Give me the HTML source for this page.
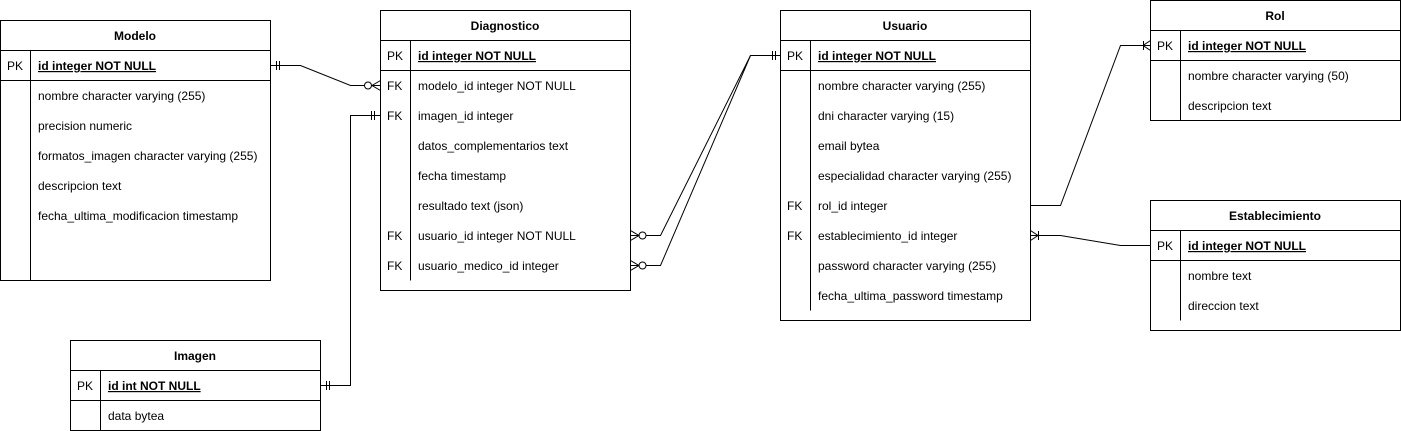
<!DOCTYPE html>
<html><head><meta charset="utf-8"><style>
html,body{margin:0;padding:0;background:#fff;}
svg{display:block;font-family:"Liberation Sans",Arial,sans-serif;font-size:12px;}
.h{font-weight:bold;text-anchor:middle;}
.pk{font-weight:bold;text-decoration:underline;}
</style></head><body>
<svg width="1401" height="431" viewBox="0 0 1401 431" xmlns="http://www.w3.org/2000/svg">
<g fill="none" stroke="#000" stroke-width="1">
<rect x="0.5" y="20.5" width="270" height="260"/>
<line x1="0.5" y1="50.5" x2="270.5" y2="50.5"/>
<line x1="0.5" y1="80.5" x2="270.5" y2="80.5"/>
<line x1="30.5" y1="50.5" x2="30.5" y2="280.5"/>
<rect x="380.5" y="10.5" width="250" height="280"/>
<line x1="380.5" y1="40.5" x2="630.5" y2="40.5"/>
<line x1="380.5" y1="70.5" x2="630.5" y2="70.5"/>
<line x1="410.5" y1="40.5" x2="410.5" y2="280.5"/>
<rect x="780.5" y="10.5" width="250" height="310"/>
<line x1="780.5" y1="40.5" x2="1030.5" y2="40.5"/>
<line x1="780.5" y1="70.5" x2="1030.5" y2="70.5"/>
<line x1="810.5" y1="40.5" x2="810.5" y2="310.5"/>
<rect x="1150.5" y="0.5" width="250" height="120"/>
<line x1="1150.5" y1="30.5" x2="1400.5" y2="30.5"/>
<line x1="1150.5" y1="60.5" x2="1400.5" y2="60.5"/>
<line x1="1180.5" y1="30.5" x2="1180.5" y2="120.5"/>
<rect x="1150.5" y="200.5" width="250" height="130"/>
<line x1="1150.5" y1="230.5" x2="1400.5" y2="230.5"/>
<line x1="1150.5" y1="260.5" x2="1400.5" y2="260.5"/>
<line x1="1180.5" y1="230.5" x2="1180.5" y2="320.5"/>
<rect x="70.5" y="340.5" width="250" height="90"/>
<line x1="70.5" y1="370.5" x2="320.5" y2="370.5"/>
<line x1="70.5" y1="400.5" x2="320.5" y2="400.5"/>
<line x1="100.5" y1="370.5" x2="100.5" y2="430.5"/>

<polyline points="270.5,65.5 300.5,65.5 350.5,85.5 380.5,85.5"/>
<line x1="276.5" y1="61" x2="276.5" y2="70"/><line x1="279.5" y1="61" x2="279.5" y2="70"/>
<circle cx="368" cy="85.5" r="3.5" fill="#fff"/>
<polyline points="380.5,80.5 372,85.5 380.5,90.5"/>

<polyline points="320.5,385.5 350.5,385.5 350.5,115.5 380.5,115.5"/>
<line x1="326.5" y1="381" x2="326.5" y2="390"/><line x1="329.5" y1="381" x2="329.5" y2="390"/>
<line x1="371.5" y1="111" x2="371.5" y2="120"/><line x1="374.5" y1="111" x2="374.5" y2="120"/>

<polyline points="780.5,55.5 750.5,55.5 660.5,235.5 630.5,235.5"/>
<polyline points="750.5,55.5 660.5,265.5 630.5,265.5"/>
<line x1="772.5" y1="51" x2="772.5" y2="60"/><line x1="775.5" y1="51" x2="775.5" y2="60"/>
<circle cx="642.5" cy="235.5" r="3.5" fill="#fff"/>
<polyline points="630.5,230.5 639,235.5 630.5,240.5"/>
<circle cx="642.5" cy="265.5" r="3.5" fill="#fff"/>
<polyline points="630.5,260.5 639,265.5 630.5,270.5"/>

<polyline points="1030.5,205.5 1060.5,205.5 1120.5,45.5 1150.5,45.5"/>
<line x1="1143.5" y1="41" x2="1143.5" y2="50"/>
<polyline points="1150.5,40.5 1143,45.5 1150.5,50.5"/>

<polyline points="1030.5,235.5 1060.5,235.5 1120.5,245.5 1150.5,245.5"/>
<line x1="1038.5" y1="231" x2="1038.5" y2="240"/>
<polyline points="1030.5,230.5 1038,235.5 1030.5,240.5"/>
</g>
<g fill="#000">
<text class="h" x="135" y="40">Modelo</text>
<text x="7" y="70">PK</text><text class="pk" x="38" y="70">id integer NOT NULL</text>
<text x="38" y="100">nombre character varying (255)</text>
<text x="38" y="130">precision numeric</text>
<text x="38" y="160">formatos_imagen character varying (255)</text>
<text x="38" y="190">descripcion text</text>
<text x="38" y="220">fecha_ultima_modificacion timestamp</text>

<text class="h" x="505" y="30">Diagnostico</text>
<text x="387" y="60">PK</text><text class="pk" x="418" y="60">id integer NOT NULL</text>
<text x="387" y="90">FK</text><text x="418" y="90">modelo_id integer NOT NULL</text>
<text x="387" y="120">FK</text><text x="418" y="120">imagen_id integer</text>
<text x="418" y="150">datos_complementarios text</text>
<text x="418" y="180">fecha timestamp</text>
<text x="418" y="210">resultado text (json)</text>
<text x="387" y="240">FK</text><text x="418" y="240">usuario_id integer NOT NULL</text>
<text x="387" y="270">FK</text><text x="418" y="270">usuario_medico_id integer</text>

<text class="h" x="905" y="30">Usuario</text>
<text x="787" y="60">PK</text><text class="pk" x="818" y="60">id integer NOT NULL</text>
<text x="818" y="90">nombre character varying (255)</text>
<text x="818" y="120">dni character varying (15)</text>
<text x="818" y="150">email bytea</text>
<text x="818" y="180">especialidad character varying (255)</text>
<text x="787" y="210">FK</text><text x="818" y="210">rol_id integer</text>
<text x="787" y="240">FK</text><text x="818" y="240">establecimiento_id integer</text>
<text x="818" y="270">password character varying (255)</text>
<text x="818" y="300">fecha_ultima_password timestamp</text>

<text class="h" x="1275" y="20">Rol</text>
<text x="1157" y="50">PK</text><text class="pk" x="1188" y="50">id integer NOT NULL</text>
<text x="1188" y="80">nombre character varying (50)</text>
<text x="1188" y="110">descripcion text</text>

<text class="h" x="1275" y="220">Establecimiento</text>
<text x="1157" y="250">PK</text><text class="pk" x="1188" y="250">id integer NOT NULL</text>
<text x="1188" y="280">nombre text</text>
<text x="1188" y="310">direccion text</text>

<text class="h" x="195" y="360">Imagen</text>
<text x="77" y="390">PK</text><text class="pk" x="108" y="390">id int NOT NULL</text>
<text x="108" y="420">data bytea</text>
</g>
</svg>
</body></html>
